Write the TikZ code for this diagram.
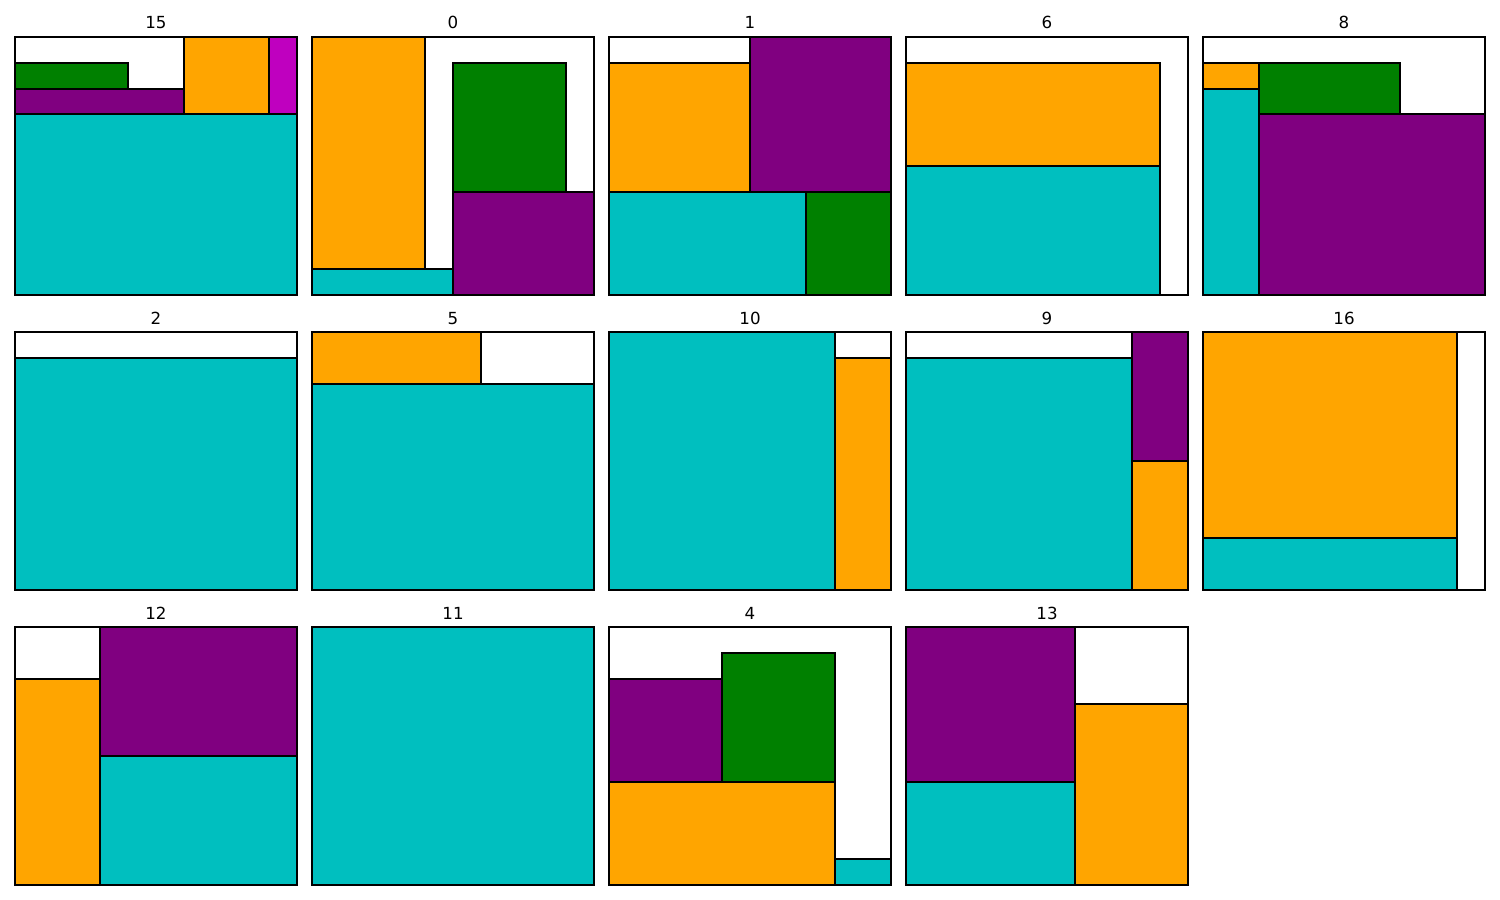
\documentclass[tikz,border=0pt]{standalone}
\usepackage{fontspec}
\setmainfont{DejaVu Sans}
\definecolor{cc}{RGB}{0,191,191}
\definecolor{oo}{RGB}{255,165,0}
\definecolor{pp}{RGB}{128,0,128}
\definecolor{gg}{RGB}{0,128,0}
\definecolor{mm}{RGB}{191,0,191}
\tikzset{
  blk/.style={draw=black,line width=1.4pt},
  spine/.style={draw=black,line width=0.8pt},
  ttl/.style={anchor=base,inner sep=0pt,font=\fontsize{12}{14}\selectfont},
}
\newcommand\rc[5]{\filldraw[blk,fill=#1] (#2,#3) rectangle (#4,#5);}
\newcommand\panelbox{\draw[spine] (0,0) rectangle (10,10);}
\begin{document}
\begin{tikzpicture}[x=0.72pt,y=-0.72pt]
\useasboundingbox (0,0) rectangle (1500,900);
\fill[white] (0,0) rectangle (1500,900);
% titles
\foreach \t/\cx/\by in {15/156/29, 0/453/29, 1/750/29, 6/1047/29, 8/1344/29,
  2/156/324, 5/453/324, 10/750/324, 9/1047/324, 16/1344/324,
  12/156/619, 11/453/619, 4/750/619, 13/1047/619}
  \node[ttl] (t\t) at (\cx,\by) {\t};
% panel 15
\begin{scope}[shift={(15,37)},x=20.304pt,y=-18.576pt]
\panelbox
\rc{gg}{0}{1}{4}{2}
\rc{pp}{0}{2}{6}{3}
\rc{oo}{6}{0}{9}{3}
\rc{mm}{9}{0}{10}{3}
\rc{cc}{0}{3}{10}{10}
\end{scope}
% panel 0
\begin{scope}[shift={(312,37)},x=20.304pt,y=-18.576pt]
\panelbox
\rc{oo}{0}{0}{4}{9}
\rc{cc}{0}{9}{5}{10}
\rc{gg}{5}{1}{9}{6}
\rc{pp}{5}{6}{10}{10}
\end{scope}
% panel 1
\begin{scope}[shift={(609,37)},x=20.304pt,y=-18.576pt]
\panelbox
\rc{oo}{0}{1}{5}{6}
\rc{pp}{5}{0}{10}{6}
\rc{cc}{0}{6}{7}{10}
\rc{gg}{7}{6}{10}{10}
\end{scope}
% panel 6
\begin{scope}[shift={(906,37)},x=20.304pt,y=-18.576pt]
\panelbox
\rc{oo}{0}{1}{9}{5}
\rc{cc}{0}{5}{9}{10}
\end{scope}
% panel 8
\begin{scope}[shift={(1203,37)},x=20.304pt,y=-18.576pt]
\panelbox
\rc{oo}{0}{1}{2}{2}
\rc{cc}{0}{2}{2}{10}
\rc{gg}{2}{1}{7}{3}
\rc{pp}{2}{3}{10}{10}
\end{scope}
% panel 2
\begin{scope}[shift={(15,332)},x=20.304pt,y=-18.576pt]
\panelbox
\rc{cc}{0}{1}{10}{10}
\end{scope}
% panel 5
\begin{scope}[shift={(312,332)},x=20.304pt,y=-18.576pt]
\panelbox
\rc{oo}{0}{0}{6}{2}
\rc{cc}{0}{2}{10}{10}
\end{scope}
% panel 10
\begin{scope}[shift={(609,332)},x=20.304pt,y=-18.576pt]
\panelbox
\rc{cc}{0}{0}{8}{10}
\rc{oo}{8}{1}{10}{10}
\end{scope}
% panel 9
\begin{scope}[shift={(906,332)},x=20.304pt,y=-18.576pt]
\panelbox
\rc{cc}{0}{1}{8}{10}
\rc{pp}{8}{0}{10}{5}
\rc{oo}{8}{5}{10}{10}
\end{scope}
% panel 16
\begin{scope}[shift={(1203,332)},x=20.304pt,y=-18.576pt]
\panelbox
\rc{oo}{0}{0}{9}{8}
\rc{cc}{0}{8}{9}{10}
\end{scope}
% panel 12
\begin{scope}[shift={(15,627)},x=20.304pt,y=-18.576pt]
\panelbox
\rc{oo}{0}{2}{3}{10}
\rc{pp}{3}{0}{10}{5}
\rc{cc}{3}{5}{10}{10}
\end{scope}
% panel 11
\begin{scope}[shift={(312,627)},x=20.304pt,y=-18.576pt]
\panelbox
\rc{cc}{0}{0}{10}{10}
\end{scope}
% panel 4
\begin{scope}[shift={(609,627)},x=20.304pt,y=-18.576pt]
\panelbox
\rc{pp}{0}{2}{4}{6}
\rc{gg}{4}{1}{8}{6}
\rc{oo}{0}{6}{8}{10}
\rc{cc}{8}{9}{10}{10}
\end{scope}
% panel 13
\begin{scope}[shift={(906,627)},x=20.304pt,y=-18.576pt]
\panelbox
\rc{pp}{0}{0}{6}{6}
\rc{cc}{0}{6}{6}{10}
\rc{oo}{6}{3}{10}{10}
\end{scope}
\end{tikzpicture}
\end{document}
